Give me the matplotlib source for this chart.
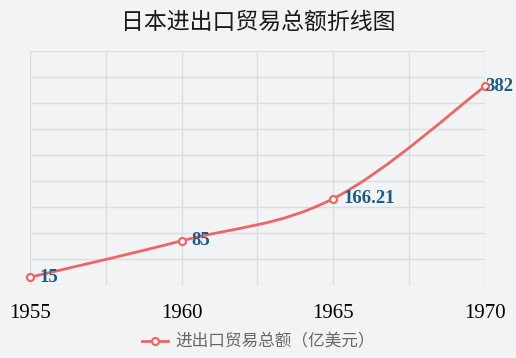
import numpy as np
import matplotlib.pyplot as plt
from matplotlib.path import Path
from matplotlib.patches import PathPatch
from matplotlib.lines import Line2D

plt.rcParams['font.family'] = ['Noto Sans CJK SC', 'DejaVu Sans']

years = [1955, 1960, 1965, 1970]
totals = [15, 85, 166.21, 382]
labels = ['15', '85', '166.21', '382']
title = '日本进出口贸易总额折线图'
series_name = '进出口贸易总额（亿美元）'

bg = '#f2f3f5'
red = '#ef6464'
blue = '#1b5a85'

fig = plt.figure(figsize=(5.16, 3.58), dpi=100, facecolor=bg)
ax = fig.add_axes([30/516, 1-285/358, 455/516, 234/358], facecolor=bg)

# smooth curve through the points (cubic bezier, catmull-rom style)
x = np.array(years, float); y = np.array(totals, float)
verts = [(x[0], y[0])]; codes = [Path.MOVETO]
k = 0.18
for i in range(len(x) - 1):
    p0 = i - 1 if i > 0 else i
    p3 = i + 2 if i + 2 < len(x) else i + 1
    c1 = (x[i] + k*(x[i+1]-x[p0]), y[i] + k*(y[i+1]-y[p0]))
    c2 = (x[i+1] - k*(x[p3]-x[i]), y[i+1] - k*(y[p3]-y[i]))
    verts += [c1, c2, (x[i+1], y[i+1])]; codes += [Path.CURVE4]*3
ax.add_patch(PathPatch(Path(verts, codes), fill=False, edgecolor=red, lw=2, zorder=3))
ax.plot(years, totals, ls='none', marker='o', ms=5, mfc='white', mec=red, mew=1.6, zorder=4, clip_on=False)

offs = [7, 7, 7, 0]
for xi, yi, lab, o in zip(years, totals, labels, offs):
    ax.annotate(lab, (xi, yi), xytext=(o, 0), textcoords='offset points', ha='left', va='center',
                fontsize=13.5, fontweight='bold', color=blue, family='Liberation Serif', zorder=5)

ax.set_xlim(1955, 1970); ax.set_ylim(0, 450)
ax.set_xticks(np.arange(1955, 1970.1, 2.5), minor=True)
ax.set_xticks(years)
ax.set_xticklabels([str(v) for v in years], family='Liberation Serif', fontsize=15)
ax.set_yticks(np.arange(0, 451, 50)); ax.set_yticklabels([])
ax.tick_params(which='both', length=0, pad=14)
ax.grid(True, which='both', color='#dddddd', lw=1.0)
for s in ax.spines.values():
    s.set_visible(False)

fig.text(0.5, 1-22/358, title, ha='center', va='center', fontsize=16.5, color='#1a1a1a')

h = Line2D([], [], color=red, lw=2, marker='o', ms=5, mfc='white', mec=red, mew=1.6)
fig.legend([h], [series_name], loc='center', bbox_to_anchor=(0.5, 1-342/358), frameon=False,
           fontsize=12, labelcolor='#666666', handlelength=1.6, handletextpad=0.4)

fig.savefig('out.png', dpi=100, facecolor=bg)
